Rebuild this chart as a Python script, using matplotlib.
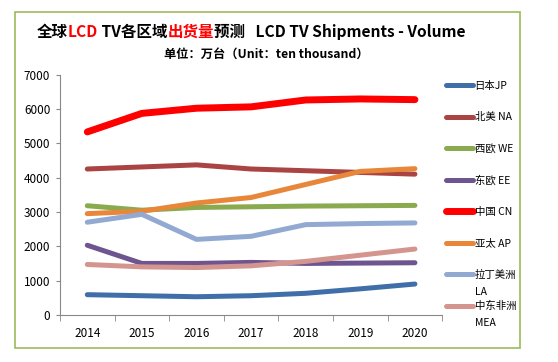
import matplotlib
matplotlib.use("Agg")
import matplotlib.pyplot as plt
from matplotlib.patches import Rectangle

plt.rcParams['font.family'] = ['Noto Sans CJK SC', 'DejaVu Sans']

# data (unit: ten thousand sets)
years = ['2014', '2015', '2016', '2017', '2018', '2019', '2020']
jp = [590, 560, 530, 560, 630, 760, 900]
na = [4250, 4310, 4370, 4250, 4200, 4150, 4100]
we = [3180, 3050, 3130, 3150, 3170, 3180, 3190]
ee = [2030, 1500, 1500, 1530, 1500, 1510, 1520]
cn = [5330, 5870, 6020, 6060, 6260, 6290, 6270]
ap = [2950, 3020, 3260, 3420, 3800, 4180, 4260]
la = [2700, 2930, 2200, 2290, 2630, 2660, 2680]
mea = [1470, 1400, 1380, 1430, 1560, 1740, 1920]

# label, second legend line, values, colour, width
series = [
    ('日本JP', '', jp, '#3F6EA8', 3.6),
    ('北美 NA', '', na, '#A94442', 3.6),
    ('西欧 WE', '', we, '#8AAA4F', 3.6),
    ('东欧 EE', '', ee, '#6F5590', 3.6),
    ('中国 CN', '', cn, '#FF0000', 5.0),
    ('亚太 AP', '', ap, '#E8873A', 3.6),
    ('拉丁美洲', 'LA', la, '#92AAD2', 3.6),
    ('中东非洲', 'MEA', mea, '#D4958F', 3.6),
]

fig = plt.figure(figsize=(5.58, 3.62), dpi=100)
ax = fig.add_axes([0.1075, 0.13, 0.685, 0.664])

x = range(len(years))
for name, extra, vals, color, lw in series:
    ax.plot(x, vals, color=color, lw=lw, solid_capstyle='round',
            solid_joinstyle='round', label=name)

ax.set_xlim(-0.5, len(years) - 0.5)
ax.set_ylim(0, 7000)
ax.set_yticks(range(0, 7001, 1000))
ax.set_xticks(list(x))
ax.set_xticklabels(years)
# Excel style tick marks between categories
ax.set_xticks([i - 0.5 for i in range(len(years) + 1)], minor=True)
ax.tick_params(axis='x', which='major', length=0, pad=9, labelsize=8.5)
ax.tick_params(axis='x', which='minor', length=4, color='#888888', direction='out')
ax.tick_params(axis='y', length=3, color='#888888', labelsize=8.5, pad=4)
for side in ['top', 'right']:
    ax.spines[side].set_visible(False)
for side in ['left', 'bottom']:
    ax.spines[side].set_color('#888888')
    ax.spines[side].set_linewidth(0.8)

leg = ax.legend(loc='upper left', bbox_to_anchor=(1.0, 0.99), frameon=False,
                fontsize=7.5, handlelength=2.6, handletextpad=0.1,
                labelspacing=2.05, borderaxespad=0)

# green frame around the chart
fig.patches.append(Rectangle((15 / 558, 1 - 348 / 362), 505 / 558, 336 / 362,
                             transform=fig.transFigure, fill=False,
                             edgecolor='#9BBB59', lw=1.2))

# title with mixed colours
parts = [('全球', 'black'), ('LCD', 'red'), (' TV各区域', 'black'),
         ('出货量', 'red'), ('预测   LCD TV Shipments - Volume', 'black')]
fig.canvas.draw()
r = fig.canvas.get_renderer()
texts = [fig.text(0, 1 - 32 / 362, s, color=c, fontsize=11.2, fontweight='bold',
                  va='center', ha='left') for s, c in parts]
widths = [t.get_window_extent(r).width for t in texts]
start = 251 - sum(widths) / 2
for t, w in zip(texts, widths):
    t.set_x(start / 558)
    start += w

fig.text(266 / 558, 1 - 54 / 362, '单位：万台（Unit：ten thousand）',
         fontsize=8.8, fontweight='bold', ha='center', va='center')

# second line of the two-line legend entries
for t, (name, extra, *_rest) in zip(leg.get_texts(), series):
    if extra:
        bb = t.get_window_extent(r)
        fig.text(bb.x0 / 558, (bb.y0 - 17) / 362, extra, fontsize=7.5,
                 ha='left', va='bottom')

fig.savefig('out.png', dpi=100)
